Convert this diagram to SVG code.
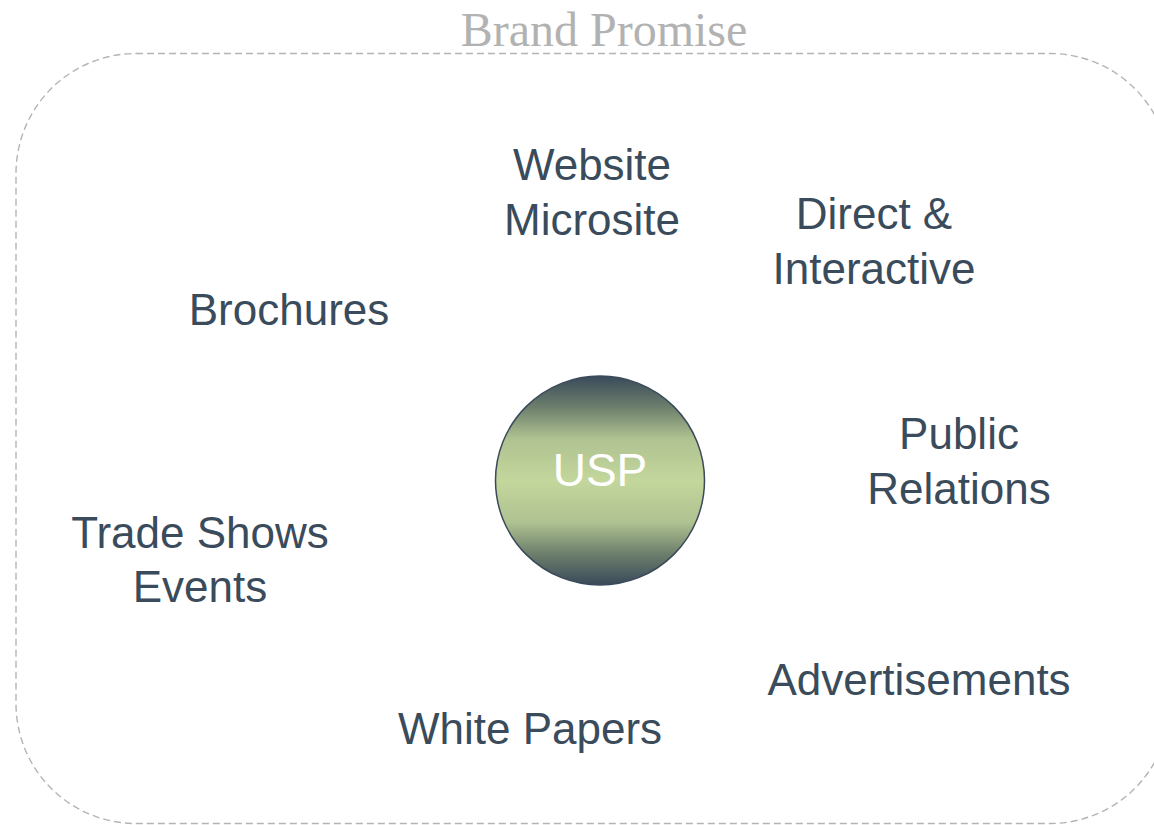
<svg xmlns="http://www.w3.org/2000/svg" width="1154" height="825" viewBox="0 0 1154 825">
  <style>
    .item { font-family: "Liberation Sans", Arial, sans-serif; font-size: 44px; fill: #3a4b5b; text-anchor: middle; }
    .frame { fill: none; stroke: #b4b4b4; stroke-width: 1.4; stroke-dasharray: 7 4; }
    .title { font-family: "Liberation Serif", "Times New Roman", serif; font-size: 48px; fill: #b2b2b2; text-anchor: middle; }
  </style>
  <defs>
    <linearGradient id="uspFill" x1="0" y1="0" x2="0" y2="1">
      <stop offset="0" stop-color="#394a5a"/>
      <stop offset="0.15" stop-color="#6d7f6c"/>
      <stop offset="0.3" stop-color="#afc291"/>
      <stop offset="0.5" stop-color="#c3d69c"/>
      <stop offset="0.7" stop-color="#afc291"/>
      <stop offset="0.85" stop-color="#6d7f6c"/>
      <stop offset="1" stop-color="#394a5a"/>
    </linearGradient>
  </defs>

  <!-- brand promise boundary -->
  <g id="brand-promise">
    <rect class="frame" x="16" y="53.5" width="1154" height="770" rx="120" ry="120"/>
    <text class="title" x="604" y="46">Brand Promise</text>
  </g>

  <g id="connectors"/>

  <g id="usp">
    <circle cx="600" cy="480.5" r="104.5" fill="url(#uspFill)" stroke="#3a4a5a" stroke-width="1.5"/>
    <text class="item" x="600" y="486" style="fill:#ffffff;font-size:46px">USP</text>
  </g>

  <g id="website">
    <text class="item" x="592" y="180">Website</text>
    <text class="item" x="592" y="235">Microsite</text>
  </g>

  <g id="direct">
    <text class="item" x="874" y="229">Direct &amp;</text>
    <text class="item" x="874" y="284">Interactive</text>
  </g>

  <g id="brochures">
    <text class="item" x="289" y="325">Brochures</text>
  </g>

  <g id="public-relations">
    <text class="item" x="959" y="449">Public</text>
    <text class="item" x="959" y="504">Relations</text>
  </g>

  <g id="trade-shows">
    <text class="item" x="200" y="548">Trade Shows</text>
    <text class="item" x="200" y="602">Events</text>
  </g>

  <g id="advertisements">
    <text class="item" x="919" y="695">Advertisements</text>
  </g>

  <g id="white-papers">
    <text class="item" x="530" y="744">White Papers</text>
  </g>
</svg>
